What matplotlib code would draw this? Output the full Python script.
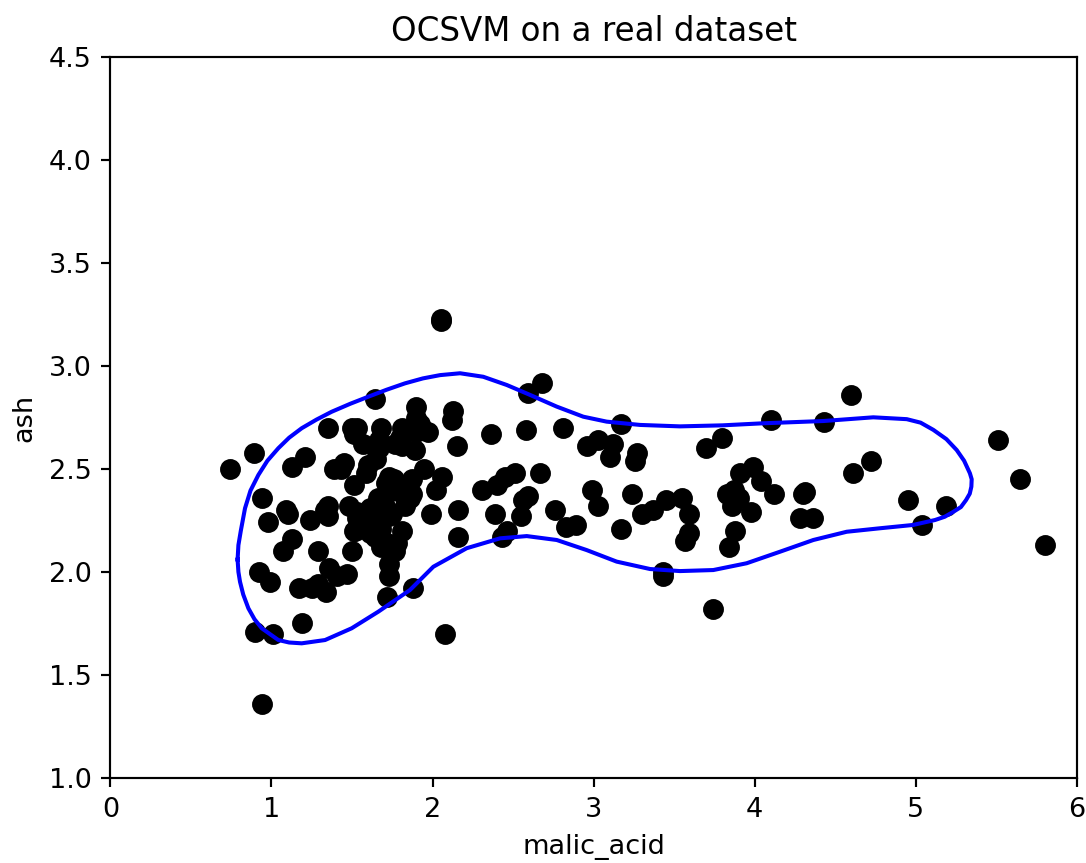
import matplotlib
matplotlib.use("Agg")
import matplotlib.pyplot as plt

# wine data: malic_acid vs ash
malic_acid = [1.71, 1.78, 2.36, 1.95, 2.59, 1.76, 1.87, 2.15, 1.64, 1.35,
              2.16, 1.48, 1.73, 1.73, 1.87, 1.81, 1.92, 1.57, 1.59, 3.10,
              1.63, 3.80, 1.86, 1.60, 1.81, 2.05, 1.77, 1.72, 1.90, 1.68,
              1.50, 1.66, 1.83, 1.53, 1.80, 1.81, 1.64, 1.65, 1.50, 3.99,
              1.71, 3.84, 1.89, 3.98, 1.77, 4.04, 3.59, 1.68, 2.02, 1.73,
              1.73, 1.65, 1.75, 1.90, 1.67, 1.73, 1.70, 1.97, 1.43, 0.94,
              1.10, 1.36, 1.25, 1.13, 1.45, 1.21, 1.01, 1.17, 0.94, 1.19,
              1.61, 1.51, 1.66, 1.67, 1.09, 1.88, 0.90, 2.89, 0.99, 3.87,
              0.92, 1.81, 1.13, 3.86, 0.89, 0.98, 1.61, 1.67, 2.06, 1.33,
              1.83, 1.51, 1.53, 2.83, 1.99, 1.52, 2.12, 1.41, 1.07, 3.17,
              2.08, 1.34, 2.45, 1.72, 1.73, 2.55, 1.73, 1.75, 1.29, 1.35,
              3.74, 2.43, 2.68, 0.74, 1.39, 1.51, 1.47, 1.61, 3.43, 3.43,
              2.40, 2.05, 4.43, 5.80, 4.31, 2.16, 1.53, 2.13, 1.63, 4.30,
              1.35, 2.99, 2.31, 3.55, 1.24, 2.46, 4.72, 5.51, 3.59, 2.96,
              2.81, 2.56, 3.17, 4.95, 3.88, 3.57, 5.04, 4.61, 3.24, 3.90,
              3.12, 2.67, 1.90, 3.30, 1.29, 5.19, 4.12, 3.03, 1.68, 1.67,
              3.83, 3.26, 3.27, 3.45, 2.76, 4.36, 3.70, 3.37, 2.58, 4.60,
              3.03, 2.39, 2.51, 5.65, 3.91, 4.28, 2.59, 4.10]
ash = [2.43, 2.14, 2.67, 2.50, 2.87, 2.45, 2.45, 2.61, 2.17, 2.27,
       2.30, 2.32, 2.41, 2.39, 2.38, 2.70, 2.72, 2.62, 2.48, 2.56,
       2.28, 2.65, 2.36, 2.52, 2.61, 3.22, 2.62, 2.14, 2.80, 2.21,
       2.70, 2.36, 2.36, 2.70, 2.65, 2.41, 2.84, 2.55, 2.10, 2.51,
       2.31, 2.12, 2.59, 2.29, 2.10, 2.44, 2.28, 2.12, 2.40, 2.27,
       2.04, 2.60, 2.42, 2.68, 2.25, 2.46, 2.30, 2.68, 2.50, 1.36,
       2.28, 2.02, 1.92, 2.16, 2.53, 2.56, 1.70, 1.92, 2.36, 1.75,
       2.21, 2.67, 2.24, 2.60, 2.30, 1.92, 1.71, 2.23, 1.95, 2.40,
       2.00, 2.20, 2.51, 2.32, 2.58, 2.24, 2.31, 2.62, 2.46, 2.30,
       2.32, 2.42, 2.26, 2.22, 2.28, 2.20, 2.74, 1.98, 2.10, 2.21,
       1.70, 1.90, 2.46, 1.88, 1.98, 2.27, 2.12, 2.28, 1.94, 2.70,
       1.82, 2.17, 2.92, 2.50, 2.50, 2.20, 1.99, 2.19, 1.98, 2.00,
       2.42, 3.23, 2.73, 2.13, 2.39, 2.17, 2.29, 2.78, 2.30, 2.38,
       2.32, 2.40, 2.40, 2.36, 2.25, 2.20, 2.54, 2.64, 2.19, 2.61,
       2.70, 2.35, 2.72, 2.35, 2.20, 2.15, 2.23, 2.48, 2.38, 2.36,
       2.62, 2.48, 2.75, 2.28, 2.10, 2.32, 2.38, 2.64, 2.70, 2.64,
       2.38, 2.54, 2.58, 2.35, 2.30, 2.26, 2.60, 2.30, 2.69, 2.86,
       2.32, 2.28, 2.48, 2.45, 2.48, 2.26, 2.37, 2.74]

# decision boundary (closed curve)
boundary_x = [0.790, 0.795, 0.810, 0.836, 0.870, 0.919, 0.975, 1.043, 1.110,
              1.188, 1.280, 1.374, 1.490, 1.601, 1.715, 1.829, 1.940, 2.047,
              2.171, 2.315, 2.461, 2.605, 2.771, 2.936, 3.081, 3.288, 3.536,
              3.800, 4.053, 4.426, 4.736, 4.944, 5.030, 5.109, 5.190, 5.254,
              5.300, 5.336, 5.347, 5.345, 5.335, 5.312, 5.280, 5.231, 5.180,
              5.119, 4.983, 4.778, 4.571, 4.364, 4.157, 3.950, 3.743, 3.536,
              3.350, 3.143, 2.957, 2.771, 2.585, 2.419, 2.212, 2.005, 1.860,
              1.664, 1.498, 1.333, 1.188, 1.110, 1.043, 0.940, 0.895, 0.857,
              0.825, 0.805, 0.795, 0.790]
boundary_y = [2.060, 2.130, 2.200, 2.309, 2.395, 2.471, 2.540, 2.601, 2.652,
              2.698, 2.740, 2.778, 2.817, 2.851, 2.885, 2.916, 2.940, 2.956,
              2.965, 2.948, 2.908, 2.860, 2.803, 2.754, 2.730, 2.714, 2.707,
              2.712, 2.722, 2.733, 2.751, 2.742, 2.725, 2.690, 2.645, 2.592,
              2.540, 2.479, 2.450, 2.414, 2.380, 2.349, 2.315, 2.291, 2.268,
              2.252, 2.228, 2.212, 2.195, 2.155, 2.098, 2.042, 2.009, 2.004,
              2.014, 2.050, 2.106, 2.155, 2.174, 2.163, 2.115, 2.025, 1.912,
              1.807, 1.726, 1.669, 1.653, 1.657, 1.669, 1.726, 1.770, 1.823,
              1.890, 1.952, 2.000, 2.060]

fig = plt.figure(figsize=(1086 / 195, 863 / 195), dpi=195)
ax = fig.add_axes([0.1016, 0.0988, 0.890, 0.8348])

ax.scatter(malic_acid, ash, color="black", s=45)
ax.plot(boundary_x, boundary_y, color="blue", linewidth=1.5)

ax.set_xlim(0, 6)
ax.set_ylim(1, 4.5)
ax.set_title("OCSVM on a real dataset")
ax.set_xlabel("malic_acid")
ax.set_ylabel("ash")

fig.savefig("out.png", dpi=195)
